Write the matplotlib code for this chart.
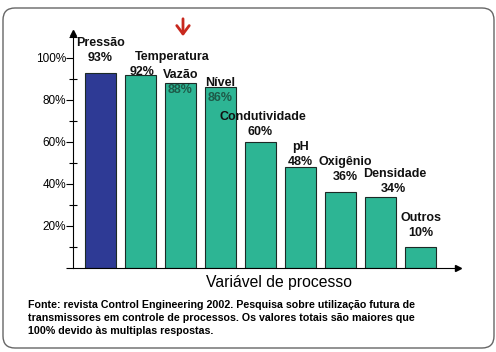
import numpy as np
import matplotlib
matplotlib.use("Agg")
import matplotlib.pyplot as plt
from matplotlib.patches import FancyBboxPatch
from matplotlib.ticker import MultipleLocator, FuncFormatter

# data
variables = ["Pressão", "Temperatura", "Vazão", "Nível", "Condutividade",
             "pH", "Oxigênio", "Densidade", "Outros"]
percent = [93, 92, 88, 86, 60, 48, 36, 34, 10]
footer = ["Fonte: revista Control Engineering 2002. Pesquisa sobre utilização futura de",
          "transmissores em controle de processos. Os valores totais são maiores que",
          "100% devido às multiplas respostas."]
x_title = "Variável de processo"

# label layout (offsets in axis units), not data
pct_dy = [7, 1.3, -3.2, -5, 4.8, 2.5, 7.3, 3.6, 6.7]
name_dx = [0, 0.8, 0, 0, 0.05, 0, 0.12, 0.35, 0]
pct_dx = [0, 0.05, 0, 0, 0, 0, 0.12, 0.32, 0]

W, H = 496, 352
fig = plt.figure(figsize=(W / 100, H / 100), dpi=100)
fig.patch.set_facecolor("white")

ax = fig.add_axes([73 / W, (H - 268) / H, 385 / W, 235 / H])
x = np.arange(len(variables))
colors = ["#2e3a95"] + ["#2db594"] * (len(variables) - 1)
ax.bar(x, percent, width=0.775, color=colors, edgecolor="#1c2a26", lw=0.8, zorder=2)

ax.set_xlim(-0.6875, 8.9375)
ax.set_ylim(0, 235 / 2.1)

lab = ["Liberation Sans", "DejaVu Sans"]
for i, (n, v) in enumerate(zip(variables, percent)):
    yp = v + pct_dy[i]
    inside = pct_dy[i] < 0
    ax.text(i + pct_dx[i], yp, f"{v}%", ha="center", va="center",
            fontsize=9, fontweight="bold", family=lab,
            color="#1d5a48" if inside else "#111111", zorder=3)
    ax.text(i + name_dx[i], yp + 7, n, ha="center", va="center",
            fontsize=9, fontweight="bold", family=lab, color="#111111", zorder=3)

for s in ["top", "right"]:
    ax.spines[s].set_visible(False)
ax.spines["left"].set_linewidth(0.8)
ax.spines["bottom"].set_linewidth(0.8)
ax.plot(0, 1, "^", color="black", ms=4, transform=ax.transAxes, clip_on=False)
ax.plot(1, 0, ">", color="black", ms=4, transform=ax.transAxes, clip_on=False)

ax.set_xticks([])
ax.yaxis.set_major_locator(MultipleLocator(20))
ax.yaxis.set_minor_locator(MultipleLocator(10))
ax.yaxis.set_major_formatter(FuncFormatter(lambda v, p: "" if v == 0 else f"{int(v)}%"))
ax.tick_params(axis="y", which="major", direction="out", length=5, width=0.8, pad=0,
               labelsize=8.5)
ax.tick_params(axis="y", which="minor", direction="inout", length=6, width=0.8)
for t in ax.get_yticklabels():
    t.set_family(lab)

# axis title and footer
fig.text(279 / W, 1 - 283 / H, x_title, ha="center", va="center", fontsize=11.3,
         family=lab)
for k, line in enumerate(footer):
    fig.text(28 / W, 1 - (305 + 13 * k) / H, line, ha="left", va="center",
             fontsize=7.7, fontweight="bold", family=lab)

# red arrow on top
fig.add_artist(plt.Annotation("", xy=(183 / W, 1 - 39 / H), xytext=(183 / W, 1 - 16 / H),
                              xycoords="figure fraction", textcoords="figure fraction",
                              arrowprops=dict(arrowstyle="->,head_width=0.45,head_length=0.6",
                                              color="#c8281e", lw=2.0)))

# rounded frame
frame = FancyBboxPatch((3 / 100, (H - 348) / 100), 491 / 100, 340 / 100,
                       boxstyle="round,pad=0,rounding_size=0.12",
                       transform=fig.dpi_scale_trans, fill=False,
                       edgecolor="#666666", lw=1.0)
fig.add_artist(frame)

fig.savefig("out.png", dpi=100)
